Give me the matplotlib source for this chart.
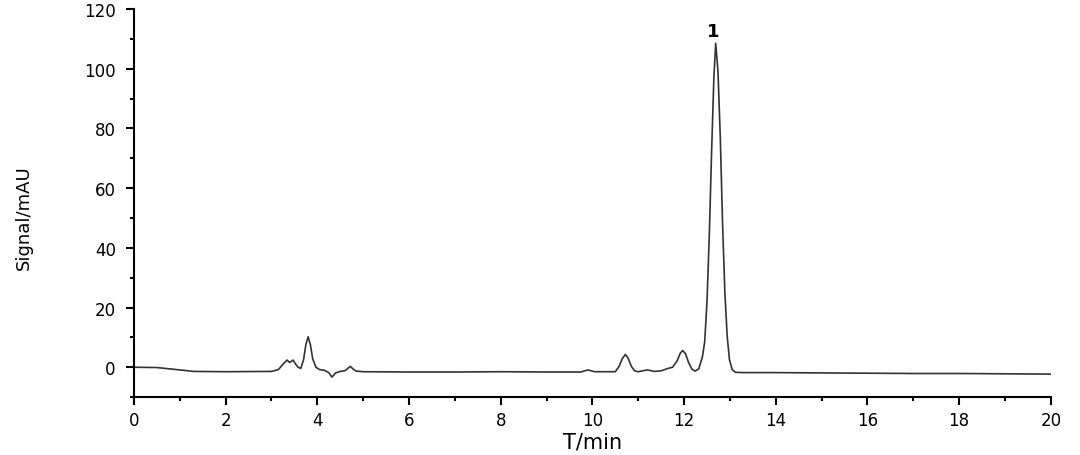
import matplotlib
matplotlib.use('Agg')
import matplotlib.pyplot as plt
from matplotlib.ticker import MultipleLocator

# chromatogram trace (time in min, signal in mAU)
time = [0.0, 0.5, 1.0, 1.3, 2.0, 3.0, 3.15, 3.25, 3.34, 3.4, 3.47, 3.52, 3.58, 3.64,
        3.7, 3.75, 3.8, 3.85, 3.9, 3.97, 4.05, 4.15, 4.25, 4.32, 4.4, 4.5, 4.6,
        4.68, 4.72, 4.78, 4.85, 5.0, 6.0, 7.0, 8.0, 9.0, 9.75, 9.9, 10.05, 10.5,
        10.58, 10.65, 10.72, 10.78, 10.85, 10.92, 11.0, 11.2, 11.35, 11.5, 11.65,
        11.75, 11.85, 11.92, 11.97, 12.03, 12.1, 12.17, 12.24, 12.32, 12.4, 12.45,
        12.5, 12.55, 12.6, 12.65, 12.69, 12.74, 12.79, 12.84, 12.89, 12.94, 12.99,
        13.05, 13.12, 13.3, 14.0, 15.0, 16.0, 17.0, 18.0, 19.0, 20.0]
signal = [0.0, -0.1, -0.9, -1.4, -1.5, -1.4, -0.8, 1.0, 2.4, 1.6, 2.4, 1.2, 0.0, -0.4,
          2.5, 7.5, 10.2, 7.5, 2.8, 0.0, -0.8, -1.0, -1.8, -3.3, -1.9, -1.4, -1.2,
          -0.2, 0.3, -0.6, -1.3, -1.5, -1.6, -1.6, -1.5, -1.6, -1.6, -0.9, -1.5, -1.5,
          0.2, 2.8, 4.3, 3.0, 0.3, -1.2, -1.5, -0.9, -1.4, -1.2, -0.4,
          0.0, 2.2, 4.8, 5.6, 4.6, 1.5, -0.6, -1.3, -0.6, 3.5, 8.5,
          22.0, 44.0, 72.0, 97.0, 108.5, 99.0, 77.0, 48.0, 25.0, 10.5, 2.5,
          -0.8, -1.7, -1.8, -1.8, -1.9, -2.0, -2.1, -2.1, -2.2, -2.3]

peak_labels = ['1']
peak_times = [12.69]
peak_heights = [108.5]

xticks = list(range(0, 21, 2))
yticks = list(range(0, 121, 20))

fig = plt.figure(figsize=(10.8, 4.56), dpi=100)
ax = fig.add_axes([0.124, 0.127, 0.849, 0.851])

ax.plot(time, signal, color='#333333', lw=1.2)

for lab, t, h in zip(peak_labels, peak_times, peak_heights):
    ax.text(t - 0.05, h + 1.2, lab, ha='center', va='bottom', fontsize=13,
            fontweight='bold', family='DejaVu Sans')

ax.set_xlim(0, 20)
ax.set_ylim(-10, 120)
ax.set_xticks(xticks)
ax.set_yticks(yticks)
ax.xaxis.set_minor_locator(MultipleLocator(1))
ax.yaxis.set_minor_locator(MultipleLocator(10))

for side in ['top', 'right']:
    ax.spines[side].set_visible(False)
for side in ['left', 'bottom']:
    ax.spines[side].set_linewidth(1.5)

ax.tick_params(which='major', direction='out', length=6, width=1.5, labelsize=12)
ax.tick_params(which='minor', direction='out', length=3, width=1.5)
ax.tick_params(axis='x', which='major', pad=4)
ax.tick_params(axis='y', which='major', pad=7)
for lab in ax.get_xticklabels() + ax.get_yticklabels():
    lab.set_family('DejaVu Sans')

ax.set_xlabel('T/min', fontsize=15, family='DejaVu Sans')
ax.xaxis.set_label_coords(0.5, -0.088)
ax.set_ylabel('Signal/mAU', fontsize=13, family='DejaVu Sans')
ax.yaxis.set_label_coords(-0.11, 0.465)

fig.savefig('out.png', dpi=100)
